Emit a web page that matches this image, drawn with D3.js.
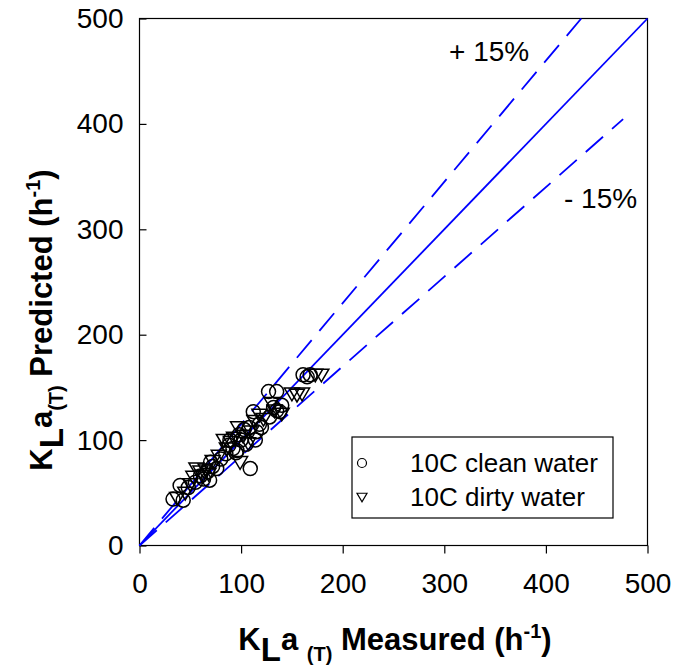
<!DOCTYPE html>
<html>
<head>
<meta charset="utf-8">
<script src="https://cdn.jsdelivr.net/npm/d3@7"></script>
<style>
  body { margin: 0; background: #fff; }
  text { font-family: "Liberation Sans", Arial, sans-serif; }
</style>
</head>
<body>
<div id="chart"></div>
<script>
// measured vs predicted KLa
var cleanWater = [
    [33, 44], [43, 43], [40, 57], [48, 55], [55, 60], [60, 66], [63, 63], [67, 70],
    [69, 62], [70, 79], [72, 75], [76, 73], [80, 82], [85, 87], [88, 95], [89, 100],
    [92, 92], [95, 88], [96, 90], [98, 105], [100, 100], [103, 110], [105, 96], [109, 73],
    [108, 112], [112, 127], [114, 100], [115, 108], [118, 115], [120, 112], [127, 146], [128, 122],
    [132, 131], [135, 128], [135, 146], [138, 127], [140, 133], [161, 162], [168, 162], [165, 160]
];
var dirtyWater = [
    [37, 45], [45, 50], [50, 58], [53, 65], [56, 73], [60, 70], [62, 66], [65, 72],
    [68, 68], [72, 80], [78, 85], [83, 100], [86, 92], [90, 98], [93, 102], [97, 112],
    [99, 79], [102, 104], [107, 97], [110, 108], [113, 118], [118, 124], [122, 120], [130, 135],
    [133, 128], [140, 125], [150, 144], [155, 143], [160, 144], [173, 162], [179, 162]
];
var xTicks = [0, 100, 200, 300, 400, 500];
var yTicks = [0, 100, 200, 300, 400, 500];
// reference lines: slope and where they stop on x
var refLines = [
    { slope: 1.0, xEnd: 500, dash: null },
    { slope: 1.15, xEnd: 500 / 1.15, dash: "23,12" },
    { slope: 0.85, xEnd: 476, dash: "23,12" }
];
var legendNames = ["10C clean water", "10C dirty water"];

var width = 677, height = 670;
var svg = d3.select("#chart").append("svg")
    .attr("width", width)
    .attr("height", height);

var x = d3.scaleLinear().domain([0, 500]).range([139.5, 647.5]);
var y = d3.scaleLinear().domain([0, 500]).range([545.5, 18.5]);

// frame
svg.append("rect")
    .attr("x", x(0)).attr("y", y(500))
    .attr("width", x(500) - x(0)).attr("height", y(0) - y(500))
    .attr("fill", "none").attr("stroke", "#000").attr("stroke-width", 1.2);

// axes
var xAxis = svg.append("g")
    .attr("transform", "translate(0," + y(0) + ")")
    .call(d3.axisBottom(x).tickValues(xTicks).tickSize(8).tickPadding(20));
var yAxis = svg.append("g")
    .attr("transform", "translate(" + x(0) + ",0)")
    .call(d3.axisLeft(y).tickValues(yTicks).tickSize(-7).tickPadding(15));
[xAxis, yAxis].forEach(function (g) {
    g.select(".domain").remove();
    g.selectAll(".tick line").attr("stroke", "#000").attr("stroke-width", 1.2);
    g.selectAll(".tick text")
        .attr("fill", "#000")
        .style("font-size", "28px")
        .style("font-family", "Liberation Sans, Arial, sans-serif");
});
yAxis.selectAll(".tick text").attr("x", -16);

// reference lines
var line = d3.line().x(function (d) { return x(d[0]); }).y(function (d) { return y(d[1]); });
refLines.forEach(function (r) {
    svg.append("path")
        .attr("d", line([[0, 0], [r.xEnd, r.xEnd * r.slope]]))
        .attr("fill", "none")
        .attr("stroke", "#0000ff")
        .attr("stroke-width", 1.8)
        .attr("stroke-dasharray", r.dash);
});

function downTriangle(s) {
    return "M" + (-s) + "," + (-s * 0.75) + "L" + s + "," + (-s * 0.75) + "L0," + (s * 0.95) + "Z";
}

// points
svg.append("g").selectAll("path")
    .data(dirtyWater).enter().append("path")
    .attr("transform", function (d) { return "translate(" + x(d[0]) + "," + y(d[1]) + ")"; })
    .attr("d", downTriangle(7.5))
    .attr("fill", "none").attr("stroke", "#000").attr("stroke-width", 1.5);
svg.append("g").selectAll("circle")
    .data(cleanWater).enter().append("circle")
    .attr("cx", function (d) { return x(d[0]); })
    .attr("cy", function (d) { return y(d[1]); })
    .attr("r", 7)
    .attr("fill", "none").attr("stroke", "#000").attr("stroke-width", 1.5);

// +/- labels
svg.append("text").attr("x", 449).attr("y", 61).style("font-size", "28px").text("+ 15%");
svg.append("text").attr("x", 564).attr("y", 208).style("font-size", "28px").text("- 15%");

// legend
var leg = svg.append("g");
leg.append("rect")
    .attr("x", 352).attr("y", 437).attr("width", 261).attr("height", 81)
    .attr("fill", "#fff").attr("stroke", "#000").attr("stroke-width", 1.2);
leg.append("circle").attr("cx", 362).attr("cy", 463).attr("r", 4.5)
    .attr("fill", "none").attr("stroke", "#000").attr("stroke-width", 1.2);
leg.append("path").attr("transform", "translate(362,497)").attr("d", downTriangle(5))
    .attr("fill", "none").attr("stroke", "#000").attr("stroke-width", 1.2);
leg.selectAll("text.lg").data(legendNames).enter().append("text")
    .attr("class", "lg")
    .attr("x", 410)
    .attr("y", function (d, i) { return 472 + i * 34; })
    .style("font-size", "26px")
    .text(function (d) { return d; });

// axis titles
function title(g, parts) {
    var t = g.append("text").attr("text-anchor", "middle")
        .style("font-weight", "bold").style("font-size", "31px");
    parts.forEach(function (p) {
        var s = t.append("tspan").text(p[0]);
        if (p[1]) s.style("font-size", p[1] + "px");
        if (p[2]) s.attr("dy", p[2]);
    });
    return t;
}
var xt = svg.append("g").attr("transform", "translate(395,650)");
title(xt, [["K"], ["L", 33, 11], ["a", null, -11], [" "], ["(T)", 20, 11], [" Measured (h", null, -11], ["-1", 20, -12], [")", null, 12]]);

var yt = svg.append("g").attr("transform", "translate(52,320) rotate(-90)");
title(yt, [["K"], ["L", 33, 11], ["a", null, -11], ["(T)", 20, 11], [" Predicted (h", null, -11], ["-1", 20, -12], [")", null, 12]]);
</script>
</body>
</html>
